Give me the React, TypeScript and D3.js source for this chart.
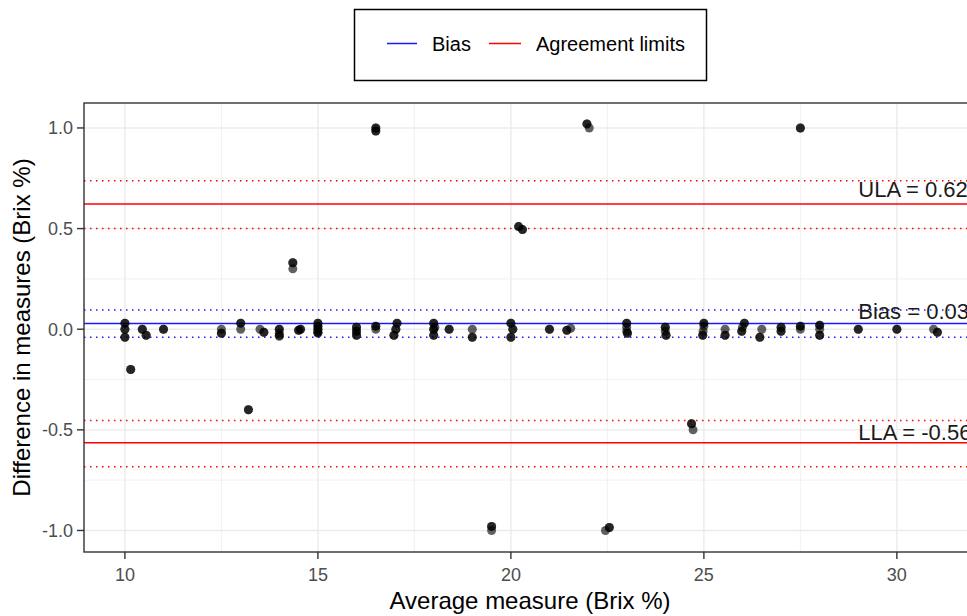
import React from "react"
import * as d3 from "d3"

// Bland-Altman style plot: average vs difference of two Brix readings

const xTicks = [10, 15, 20, 25, 30]
const xMinor = [12.5, 17.5, 22.5, 27.5]
const yTicks = [-1.0, -0.5, 0.0, 0.5, 1.0]
const yMinor = [-0.75, -0.25, 0.25, 0.75]

const bias = 0.028
const biasCI = [-0.04, 0.096]
const ula = 0.622
const ulaCI = [0.501, 0.738]
const lla = -0.564
const llaCI = [-0.683, -0.454]
const labelX = 29

// [average measure, difference]; repeated pairs are overplotted readings
const points: [number, number][] = [
  [10, 0.03], [10, 0.03], [10, 0], [10, 0], [10, -0.04], [10, -0.04],
  [10.15, -0.2], [10.15, -0.2],
  [10.45, 0], [10.45, 0], [10.55, -0.03], [10.55, -0.03],
  [11, 0], [11, 0],
  [12.5, 0], [12.5, -0.02], [12.5, -0.02],
  [13, 0.03], [13, 0.03], [13, 0],
  [13.2, -0.4], [13.2, -0.4],
  [13.5, 0], [13.6, -0.015], [13.6, -0.015],
  [14, 0], [14, 0], [14, -0.02], [14, -0.03], [14, -0.035],
  [14.35, 0.33], [14.35, 0.33], [14.35, 0.3],
  [14.5, -0.005], [14.5, -0.005], [14.55, 0], [14.55, 0],
  [15, 0.03], [15, 0.03], [15, 0.015], [15, 0.015], [15, 0], [15, 0], [15, -0.015], [15, -0.015], [15, -0.02],
  [16, 0.01], [16, 0.01], [16, -0.01], [16, -0.01], [16, -0.03], [16, -0.03],
  [16.5, 0.015], [16.5, 0.015], [16.5, 0],
  [16.5, 1.0], [16.5, 1.0], [16.5, 0.985], [16.5, 0.985],
  [17.05, 0.03], [17.05, 0.03], [17.02, 0], [17.02, 0], [16.97, -0.03], [16.97, -0.03],
  [18, 0.03], [18, 0.03], [18, 0], [18, 0], [18, -0.03], [18, -0.03], [18.03, 0.01],
  [18.4, 0], [18.4, 0],
  [19, 0], [19, -0.04], [19, -0.04],
  [19.5, -0.98], [19.5, -0.98], [19.5, -1.0],
  [20, 0.03], [20, 0.03], [20.05, 0], [20.05, 0], [20, -0.04], [20, -0.04],
  [20.2, 0.51], [20.2, 0.51], [20.3, 0.495], [20.3, 0.495],
  [21, 0], [21, 0],
  [21.45, -0.005], [21.45, -0.005], [21.55, 0.005],
  [21.97, 1.02], [21.97, 1.02], [22.03, 1.0],
  [22.55, -0.985], [22.55, -0.985], [22.45, -1.0],
  [23, 0.03], [23, 0.03], [23, 0.01], [23, -0.01], [23.02, -0.02], [23.02, -0.02],
  [24, 0.01], [24, 0.01], [24, -0.01], [24.02, -0.03], [24.02, -0.03],
  [24.68, -0.47], [24.68, -0.47], [24.72, -0.5],
  [25, 0.03], [25, 0.03], [25, 0.015], [24.98, -0.01], [24.97, -0.03], [24.97, -0.03],
  [25.55, 0], [25.55, -0.03], [25.55, -0.03],
  [26.05, 0.03], [26.05, 0.03], [26, 0.01], [25.98, -0.01], [25.98, -0.01],
  [26.5, 0], [26.45, -0.04], [26.45, -0.04],
  [27, 0.01], [27, 0.01], [27, -0.01], [27, -0.01],
  [27.5, 0.015], [27.5, 0.015], [27.5, 0],
  [27.5, 1.0], [27.5, 1.0],
  [28, 0.02], [28, 0.02], [28, 0], [28, -0.03], [28, -0.03],
  [29, 0], [29, 0],
  [30, 0], [30, 0],
  [30.95, 0], [31.05, -0.015], [31.05, -0.015],
]

const W = 967
const H = 616
const panel = { left: 84, right: 976, top: 103, bottom: 552 }
const font = "Arial, 'Liberation Sans', sans-serif"

export default function App() {
  const x = d3.scaleLinear().domain([8.94, 32.05]).range([panel.left, panel.right])
  const y = d3.scaleLinear().domain([-1.107, 1.124]).range([panel.bottom, panel.top])

  const hline = (v: number, color: string, dotted: boolean, key: string) => (
    <line key={key} x1={panel.left} x2={panel.right} y1={y(v)} y2={y(v)}
      stroke={color} strokeWidth={1.5} strokeDasharray={dotted ? "1.5 4.5" : undefined} />
  )

  return (
    <svg width={W} height={H} style={{ position: "absolute", left: 0, top: 0, background: "#fff" }} fontFamily={font}>
      <rect x={0} y={0} width={W} height={H} fill="#fff" />
      <defs>
        <clipPath id="panel">
          <rect x={panel.left} y={panel.top} width={panel.right - panel.left} height={panel.bottom - panel.top} />
        </clipPath>
      </defs>

      {/* grid */}
      <g stroke="#EBEBEB">
        {xMinor.map(v => <line key={"xm" + v} x1={x(v)} x2={x(v)} y1={panel.top} y2={panel.bottom} strokeWidth={0.7} />)}
        {yMinor.map(v => <line key={"ym" + v} x1={panel.left} x2={panel.right} y1={y(v)} y2={y(v)} strokeWidth={0.7} />)}
        {xTicks.map(v => <line key={"xg" + v} x1={x(v)} x2={x(v)} y1={panel.top} y2={panel.bottom} strokeWidth={1.4} />)}
        {yTicks.map(v => <line key={"yg" + v} x1={panel.left} x2={panel.right} y1={y(v)} y2={y(v)} strokeWidth={1.4} />)}
      </g>

      <g clipPath="url(#panel)">
        {hline(bias, "#1a1aff", false, "b")}
        {biasCI.map((v, i) => hline(v, "#1a1aff", true, "bc" + i))}
        {hline(ula, "red", false, "u")}
        {ulaCI.map((v, i) => hline(v, "red", true, "uc" + i))}
        {hline(lla, "red", false, "l")}
        {llaCI.map((v, i) => hline(v, "red", true, "lc" + i))}

        {points.map((p, i) => (
          <circle key={i} cx={x(p[0])} cy={y(p[1])} r={4.5} fill="#000" fillOpacity={0.62} />
        ))}
      </g>

      {/* line annotations */}
      <g fontSize={22} fill="#1a1a1a">
        <text x={x(labelX)} y={y(ula) - 7}>ULA = {ula.toFixed(2)}</text>
        <text x={x(labelX)} y={y(bias) - 5}>Bias = {bias.toFixed(2)}</text>
        <text x={x(labelX)} y={y(lla) - 3}>LLA = {lla.toFixed(2)}</text>
      </g>

      <rect x={panel.left} y={panel.top} width={panel.right - panel.left} height={panel.bottom - panel.top}
        fill="none" stroke="#333" strokeWidth={1.4} />

      {/* y axis */}
      <g>
        {yTicks.map(v => (
          <g key={"yt" + v}>
            <line x1={panel.left - 7} x2={panel.left} y1={y(v)} y2={y(v)} stroke="#333" strokeWidth={1.4} />
            <text x={panel.left - 11} y={y(v)} dy="0.36em" textAnchor="end" fontSize={18} fill="#4D4D4D">{v.toFixed(1)}</text>
          </g>
        ))}
      </g>
      {/* x axis */}
      <g>
        {xTicks.map(v => (
          <g key={"xt" + v}>
            <line x1={x(v)} x2={x(v)} y1={panel.bottom} y2={panel.bottom + 7} stroke="#333" strokeWidth={1.4} />
            <text x={x(v)} y={581} textAnchor="middle" fontSize={18} fill="#4D4D4D">{v}</text>
          </g>
        ))}
      </g>

      <text x={(panel.left + panel.right) / 2} y={609} textAnchor="middle" fontSize={24} fill="#000">Average measure (Brix %)</text>
      <text transform={`translate(30,${(panel.top + panel.bottom) / 2}) rotate(-90)`} textAnchor="middle" fontSize={24} fill="#000">
        Difference in measures (Brix %)
      </text>

      {/* legend */}
      <rect x={354.5} y={9.5} width={352} height={71} fill="#fff" stroke="#000" strokeWidth={1.5} />
      <line x1={387} x2={417} y1={43.5} y2={43.5} stroke="#1a1aff" strokeWidth={1.5} />
      <text x={432} y={51} fontSize={20} fill="#000">Bias</text>
      <line x1={489} x2={521} y1={43.5} y2={43.5} stroke="red" strokeWidth={1.5} />
      <text x={536} y={51} fontSize={20} fill="#000">Agreement limits</text>
    </svg>
  )
}
